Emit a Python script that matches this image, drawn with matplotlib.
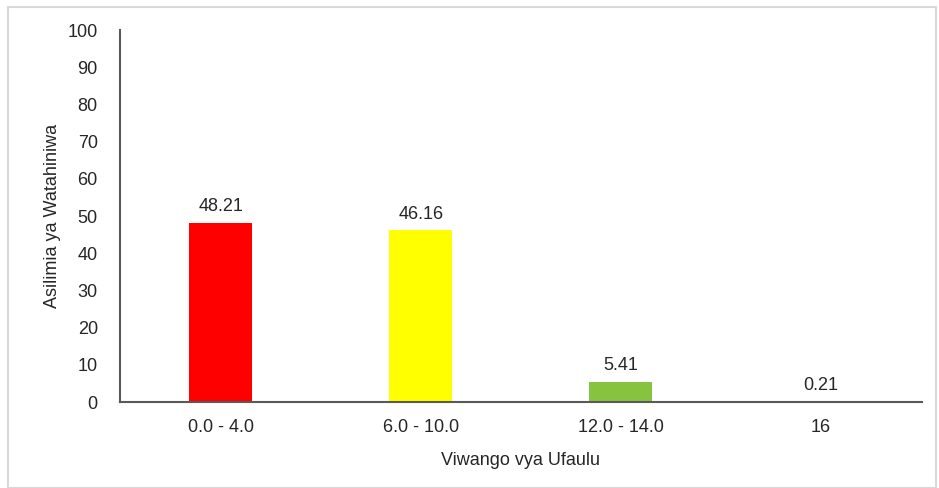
import matplotlib
matplotlib.use("Agg")
import matplotlib.pyplot as plt
from matplotlib.patches import Rectangle
import numpy as np

plt.rcParams["font.family"] = ["Liberation Sans", "DejaVu Sans"]

# Data
categories = ["0.0 - 4.0", "6.0 - 10.0", "12.0 - 14.0", "16"]
values = [48.21, 46.16, 5.41, 0.21]
colors = ["#FF0000", "#FFFF00", "#86C440", "#00B050"]

fig = plt.figure(figsize=(9.39, 4.88), dpi=100)
ax = fig.add_axes([0.1278, 0.1762, 0.854, 0.7623])

x = np.arange(len(categories))
bars = ax.bar(x, values, width=0.315, color=colors)
for xi, v in zip(x, values):
    ax.text(xi, v + 2.0, f"{v:.2f}", ha="center", va="bottom", fontsize=13, color="#262626")

ax.set_xlim(-0.505, 3.505)
ax.set_ylim(0, 100)
ax.set_yticks(range(0, 101, 10))
ax.set_xticks(x)
ax.set_xticklabels(categories, fontsize=13, color="#262626")
ax.tick_params(axis="y", labelsize=13, colors="#262626", length=0, pad=16)
ax.tick_params(axis="x", length=0, pad=12)

for s in ["top", "right"]:
    ax.spines[s].set_visible(False)
for s in ["left", "bottom"]:
    ax.spines[s].set_color("#595959")
    ax.spines[s].set_linewidth(1.5)

ax.set_xlabel("Viwango vya Ufaulu", fontsize=13, color="#262626", labelpad=12)
ax.set_ylabel("Asilimia ya Watahiniwa", fontsize=13, color="#262626", labelpad=5)

# light outer frame
fig.patches.append(Rectangle((0.009, 0.0), 0.988, 0.985, transform=fig.transFigure,
                             fill=False, edgecolor="#D9D9D9", linewidth=1.5))

plt.savefig("out.png", dpi=100)
